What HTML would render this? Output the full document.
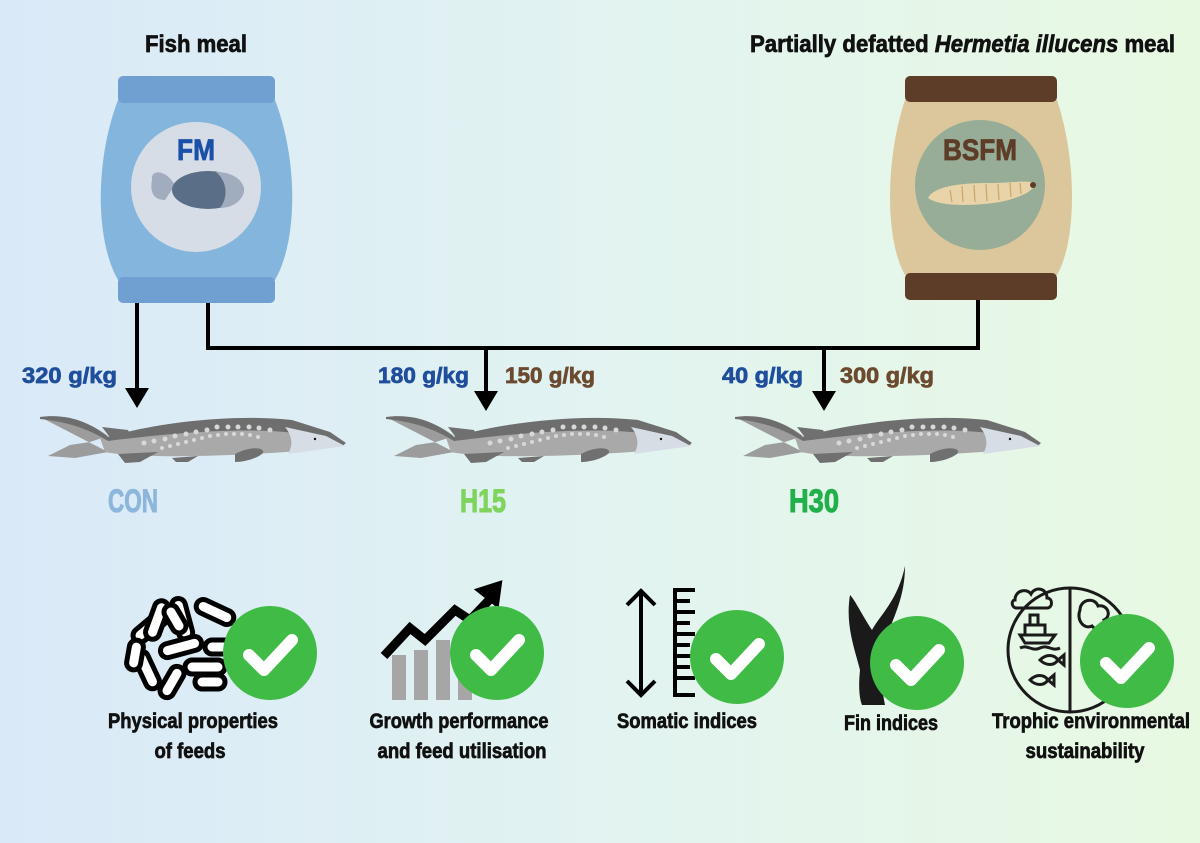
<!DOCTYPE html>
<html><head><meta charset="utf-8"><style>
html,body{margin:0;padding:0}
body{width:1200px;height:843px;overflow:hidden}
svg{display:block}
text{font-family:"Liberation Sans Narrow","Liberation Sans",sans-serif;font-weight:bold}
</style></head><body>
<svg width="1200" height="843" viewBox="0 0 1200 843" xmlns="http://www.w3.org/2000/svg">
<defs>
<linearGradient id="bg" x1="0" y1="0" x2="1" y2="0">
<stop offset="0" stop-color="#d9e9f8"/><stop offset="0.5" stop-color="#e2f3f1"/><stop offset="1" stop-color="#e8f9e2"/>
</linearGradient>
<g id="fish">
<path d="M12,18 C40,14 62,24 78,36 L60,42 L40,45 L18,56 L45,58 L78,52 Z" fill="#9c9c9c"/>
<path d="M70,38 C120,28 200,22 262,25 L300,35 L315,45 C290,50 250,53 200,55 C150,57 100,57 75,52 Z" fill="#a9a9a9"/>
<path d="M10,17 C40,13 62,24 78,37 C120,24 200,13 262,20 L300,32 L316,43 L312,46 L292,38 C250,27 180,28 78,41 C60,30 40,22 10,19 Z" fill="#6e6e6e"/>
<path d="M72,27 L98,30 L102,38 L82,40 Z" fill="#707070"/>
<path d="M255,27 C264,38 262,47 258,54 L315,46 L296,36 Z" fill="#d6dde5"/>
<path d="M88,54 L128,52 L110,62 L95,63 Z" fill="#707070"/>
<path d="M142,58 L168,56 L158,62 L146,62 Z" fill="#707070"/>
<path d="M205,54 C220,46 235,47 233,53 C228,58 215,62 205,62 Z" fill="#707070"/>
<circle cx="285" cy="39" r="1.2" fill="#111"/>
<g fill="#d8d8d8">
<circle cx="114" cy="43" r="2.5"/><circle cx="124" cy="41" r="2.5"/><circle cx="135" cy="39" r="2.5"/><circle cx="145" cy="36" r="2.5"/><circle cx="156" cy="34" r="2.5"/><circle cx="166" cy="32" r="2.5"/><circle cx="177" cy="30" r="2.5"/><circle cx="187" cy="27" r="2.5"/><circle cx="198" cy="27" r="2.5"/><circle cx="208" cy="27" r="2.5"/><circle cx="219" cy="27" r="2.5"/><circle cx="229" cy="28" r="2.5"/><circle cx="240" cy="30" r="2.5"/>
<circle cx="132" cy="48" r="2"/><circle cx="140" cy="46" r="2"/><circle cx="148" cy="44" r="2"/><circle cx="156" cy="42" r="2"/><circle cx="164" cy="40" r="2"/><circle cx="172" cy="38" r="2"/><circle cx="180" cy="36" r="2"/><circle cx="188" cy="35" r="2"/><circle cx="196" cy="34" r="2"/><circle cx="204" cy="34" r="2"/><circle cx="212" cy="34" r="2"/><circle cx="220" cy="35" r="2"/><circle cx="228" cy="37" r="2"/>
</g>
</g>
<g id="check">
<circle r="47" fill="#3fbb46"/>
<path d="M-21,2 L-6,17 L22,-13" stroke="#fff" stroke-width="12" stroke-linecap="round" stroke-linejoin="round" fill="none"/>
</g>
</defs>
<rect width="1200" height="843" fill="url(#bg)"/>

<text x="196" y="52" font-size="24" text-anchor="middle" fill="#111" stroke="#111" stroke-width="0.7" textLength="102" lengthAdjust="spacingAndGlyphs">Fish meal</text>
<text x="750" y="52" font-size="24" fill="#111" stroke="#111" stroke-width="0.7" textLength="425" lengthAdjust="spacingAndGlyphs">Partially defatted <tspan font-style="italic">Hermetia illucens</tspan> meal</text>

<!-- FM bag -->
<path d="M118,100 C95,160 95,240 118,280 L275,280 C298,240 298,160 275,100 Z" fill="#84b6dd"/>
<rect x="118" y="76" width="157" height="27" rx="5" fill="#709fd1"/>
<rect x="118" y="277" width="157" height="26" rx="5" fill="#709fd1"/>
<circle cx="196" cy="187" r="65" fill="#d6dde6"/>
<text x="196" y="160" font-size="30" text-anchor="middle" fill="#1a50a8" stroke="#1a50a8" stroke-width="0.8" textLength="38" lengthAdjust="spacingAndGlyphs">FM</text>
<path d="M175,185 C165,168 150,170 152,180 C150,190 152,200 165,200 Z" fill="#a2acbf"/>
<ellipse cx="208" cy="190" rx="36" ry="19" fill="#5a6e88"/>
<path d="M216,172 C235,172 244,182 244,190 C244,198 235,208 220,208 C228,198 228,182 216,172 Z" fill="#a2acbf"/>

<!-- BSFM bag -->
<path d="M905,100 C885,160 885,240 905,275 L1057,275 C1077,240 1077,160 1057,100 Z" fill="#dcc79c"/>
<rect x="905" y="76" width="152" height="26" rx="5" fill="#5d3d27"/>
<rect x="905" y="273" width="152" height="27" rx="5" fill="#5d3d27"/>
<circle cx="980" cy="185" r="65" fill="#98ad97"/>
<text x="980" y="160" font-size="30" text-anchor="middle" fill="#5d3d27" stroke="#5d3d27" stroke-width="0.8" textLength="74" lengthAdjust="spacingAndGlyphs">BSFM</text>
<path d="M928,198 C935,185 965,183 990,183 C1010,183 1025,180 1035,183 C1036,190 1020,198 1000,202 C975,206 940,207 928,198 Z" fill="#e9d3a8"/>
<g stroke="#c9a66c" stroke-width="1.2" fill="none"><path d="M950,190 l2,12"/><path d="M962,186 l1,16"/><path d="M974,185 l1,17"/><path d="M986,184 l1,17"/><path d="M998,184 l1,16"/><path d="M1010,183 l1,14"/><path d="M1020,183 l1,11"/></g>
<circle cx="1033" cy="185" r="3" fill="#5d3d27"/>

<!-- connectors -->
<g stroke="#000" stroke-width="4" fill="none">
<path d="M137,303 V392"/>
<path d="M208,303 V348 H978 V300"/>
<path d="M486,348 V395"/>
<path d="M824,348 V395"/>
</g>
<g fill="#000">
<path d="M125,388 L149,388 L137,408 Z"/>
<path d="M474,391 L498,391 L486,411 Z"/>
<path d="M812,391 L836,391 L824,411 Z"/>
</g>

<g font-size="22" stroke-width="0.7">
<text x="22" y="383" fill="#1f4e9c" stroke="#1f4e9c" textLength="95" lengthAdjust="spacingAndGlyphs">320 g/kg</text>
<text x="378" y="383" fill="#1f4e9c" stroke="#1f4e9c" textLength="91" lengthAdjust="spacingAndGlyphs">180 g/kg</text>
<text x="505" y="383" fill="#6b4a2f" stroke="#6b4a2f" textLength="90" lengthAdjust="spacingAndGlyphs">150 g/kg</text>
<text x="722" y="383" fill="#1f4e9c" stroke="#1f4e9c" textLength="81" lengthAdjust="spacingAndGlyphs">40 g/kg</text>
<text x="840" y="383" fill="#6b4a2f" stroke="#6b4a2f" textLength="94" lengthAdjust="spacingAndGlyphs">300 g/kg</text>
</g>

<use href="#fish" x="30" y="400"/>
<use href="#fish" x="376" y="400"/>
<use href="#fish" x="725" y="400"/>

<g font-size="32" stroke-width="1">
<text x="108" y="512" fill="#8db6dd" stroke="#8db6dd" textLength="50" lengthAdjust="spacingAndGlyphs">CON</text>
<text x="460" y="512" fill="#7fd45c" stroke="#7fd45c" textLength="46" lengthAdjust="spacingAndGlyphs">H15</text>
<text x="789" y="512" fill="#22b04b" stroke="#22b04b" textLength="50" lengthAdjust="spacingAndGlyphs">H30</text>
</g>

<!-- icon 1 pellets -->
<g stroke="#000" stroke-width="5" fill="#fff" stroke-linejoin="round">
<rect x="130" y="620" width="40" height="14" rx="7" transform="rotate(-40 150 627)"/>
<rect x="150" y="600" width="14" height="40" rx="7" transform="rotate(20 157 620)"/>
<rect x="175" y="598" width="14" height="42" rx="7" transform="rotate(-15 182 619)"/>
<rect x="195" y="605" width="40" height="14" rx="7" transform="rotate(25 215 612)"/>
<rect x="140" y="650" width="14" height="40" rx="7" transform="rotate(-25 147 670)"/>
<rect x="160" y="640" width="42" height="14" rx="7" transform="rotate(-15 181 647)"/>
<rect x="185" y="660" width="40" height="14" rx="7"/>
<rect x="165" y="665" width="14" height="34" rx="7" transform="rotate(30 172 682)"/>
<rect x="205" y="640" width="28" height="14" rx="7"/>
<rect x="128" y="640" width="14" height="30" rx="7" transform="rotate(10 135 655)"/>
<rect x="195" y="675" width="30" height="14" rx="7"/>
<rect x="160" y="612" width="30" height="14" rx="7" transform="rotate(60 175 619)"/>
</g>
<use href="#check" x="270" y="653"/>

<!-- icon 2 chart -->
<g fill="#a6a6a6">
<rect x="392" y="655" width="14" height="45"/><rect x="414" y="650" width="14" height="50"/><rect x="436" y="640" width="14" height="60"/><rect x="458" y="635" width="14" height="65"/>
</g>
<path d="M384,656 L410,628 L425,640 L455,610 L470,620 L492,597" stroke="#000" stroke-width="9" fill="none" stroke-linejoin="miter"/>
<path d="M478,590 L500,583 L497,605 Z" fill="#000" stroke="#000" stroke-width="4"/>
<use href="#check" x="497" y="653"/>

<!-- icon 3 ruler -->
<g stroke="#000" stroke-width="4" fill="none">
<path d="M641,592 V694"/><path d="M627,605 L641,591 L655,605"/><path d="M627,681 L641,695 L655,681"/>
<path d="M675,588 V697"/>
<path d="M675,590 H695 M675,601 H690 M675,612 H695 M675,623 H690 M675,634 H695 M675,645 H690 M675,656 H695 M675,667 H690 M675,678 H695 M675,695 H695"/>
</g>
<use href="#check" x="737" y="657"/>

<!-- icon 4 fin -->
<path d="M905,566 C898,600 880,615 872,630 C862,615 855,600 850,595 C845,625 855,650 860,670 C858,690 860,700 862,705 L885,705 C880,680 880,660 885,640 C895,615 905,595 905,566 Z" fill="#1a1a1a"/>
<use href="#check" x="917" y="663"/>

<!-- icon 5 globe -->
<g stroke="#1a1a1a" stroke-width="3" fill="none">
<circle cx="1070" cy="650" r="62"/>
<path d="M1070,588 V712"/>
<path d="M1015,600 c0,-10 12,-12 16,-6 c4,-8 16,-6 16,4 c6,0 6,10 0,10 h-30 c-6,0 -6,-8 -2,-8 z"/>
<path d="M1025,625 h20 v10 h-20 z M1030,625 v-10 h8 v10 M1020,635 h35 l-6,8 h-24 z"/>
<path d="M1020,648 c8,-4 12,4 20,0 c8,-4 12,4 20,0"/>
<path d="M1040,660 c6,-6 14,-6 18,0 c-4,6 -12,6 -18,0 z M1058,660 l6,-5 v10 z"/>
<path d="M1030,680 c6,-6 14,-6 18,0 c-4,6 -12,6 -18,0 z M1048,680 l6,-5 v10 z"/>
<path d="M1080,610 c0,-10 14,-14 18,-4 c10,-2 14,10 6,14 c4,8 -8,12 -12,6 c-8,4 -16,-6 -12,-16 z"/>
</g>
<use href="#check" x="1127" y="661"/>

<g font-size="21" fill="#111" stroke="#111" stroke-width="0.7" text-anchor="middle">
<text x="193" y="728" textLength="170" lengthAdjust="spacingAndGlyphs">Physical properties</text>
<text x="190" y="758" textLength="71" lengthAdjust="spacingAndGlyphs">of feeds</text>
<text x="459" y="728" textLength="179" lengthAdjust="spacingAndGlyphs">Growth performance</text>
<text x="462" y="758" textLength="169" lengthAdjust="spacingAndGlyphs">and feed utilisation</text>
<text x="687" y="728" textLength="140" lengthAdjust="spacingAndGlyphs">Somatic indices</text>
<text x="891" y="730" textLength="94" lengthAdjust="spacingAndGlyphs">Fin indices</text>
<text x="1091" y="728" textLength="198" lengthAdjust="spacingAndGlyphs">Trophic environmental</text>
<text x="1085" y="758" textLength="119" lengthAdjust="spacingAndGlyphs">sustainability</text>
</g>
</svg>
</body></html>
